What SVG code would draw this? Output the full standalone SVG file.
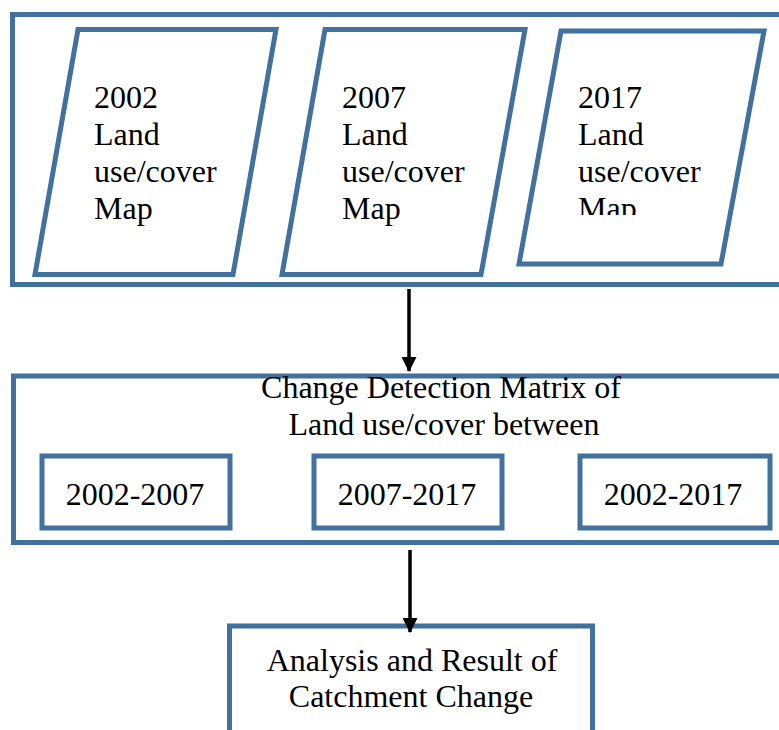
<svg xmlns="http://www.w3.org/2000/svg" width="779" height="730" viewBox="0 0 779 730">
<style>
.box{fill:#fff;stroke:#41719C;stroke-width:5}
.t{font-family:"Liberation Serif","Times New Roman",serif;font-size:32px;fill:#000}
.c{text-anchor:middle}
.conn{stroke:#000;stroke-width:3.5;fill:none}
</style>
<defs>
<marker id="ah" markerWidth="16" markerHeight="15" refX="14" refY="7.5" orient="auto" markerUnits="userSpaceOnUse">
<path d="M0,0 L15,7.5 L0,15 Z" fill="#000"/>
</marker>
<clipPath id="clip3"><rect x="560" y="60" width="200" height="155"/></clipPath>
</defs>
<rect width="779" height="730" fill="#fff"/>
<g id="maps-container">
<rect class="box" x="12.5" y="14.5" width="772" height="270"/>
</g>
<g id="map2002">
<polygon class="box" points="78,29.5 276,29.5 233,274.5 35,274.5"/>
<text class="t" x="94" y="108">2002</text>
<text class="t" x="94" y="145">Land</text>
<text class="t" x="94" y="182">use/cover</text>
<text class="t" x="94" y="219">Map</text>
</g>
<g id="map2007">
<polygon class="box" points="325,29.5 525,29.5 481,274.5 282,274.5"/>
<text class="t" x="342" y="108">2007</text>
<text class="t" x="342" y="145">Land</text>
<text class="t" x="342" y="182">use/cover</text>
<text class="t" x="342" y="219">Map</text>
</g>
<g id="map2017">
<polygon class="box" points="561,31 764,31 721,264 519,264"/>
<text class="t" x="578" y="108">2017</text>
<text class="t" x="578" y="145">Land</text>
<text class="t" x="578" y="182">use/cover</text>
<text class="t" x="578" y="219" clip-path="url(#clip3)">Map</text>
</g>
<g id="matrix">
<rect class="box" x="13.5" y="376" width="770" height="166.5"/>
<text class="t c" x="441" y="398">Change Detection Matrix of</text>
<text class="t c" x="444" y="435">Land use/cover between</text>
</g>
<g id="p2002-2007">
<rect class="box" x="42" y="456" width="188" height="72"/>
<text class="t c" x="135" y="505">2002-2007</text>
</g>
<g id="p2007-2017">
<rect class="box" x="314" y="456" width="188" height="72"/>
<text class="t c" x="407" y="505">2007-2017</text>
</g>
<g id="p2002-2017">
<rect class="box" x="580" y="456" width="190" height="72"/>
<text class="t c" x="673" y="505">2002-2017</text>
</g>
<g id="result">
<rect class="box" x="229.5" y="626" width="363" height="120"/>
<text class="t c" x="412" y="671">Analysis and Result of</text>
<text class="t c" x="411" y="707">Catchment Change</text>
</g>
<g id="connectors">
<line class="conn" x1="409" y1="289" x2="409" y2="371" marker-end="url(#ah)"/>
<line class="conn" x1="410" y1="550" x2="410" y2="632" marker-end="url(#ah)"/>
</g>
</svg>
